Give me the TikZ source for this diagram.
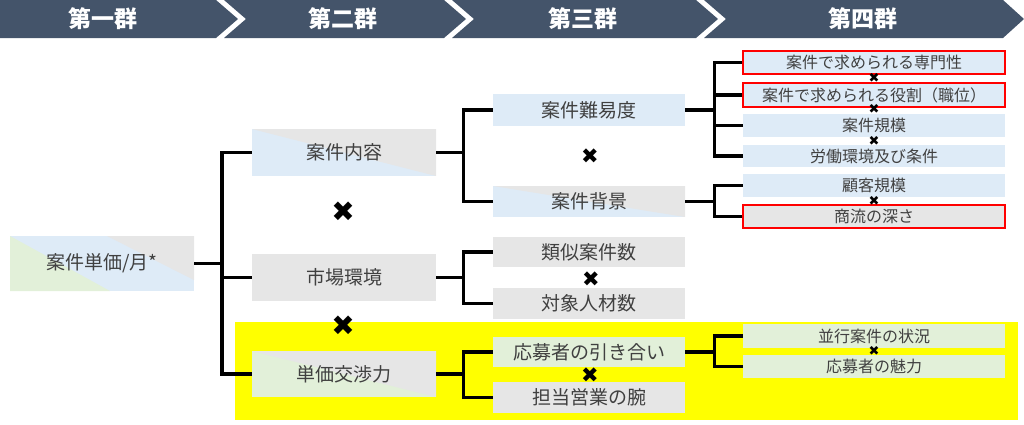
\documentclass[tikz,border=0pt]{standalone}
\usepackage{fontspec}
\newfontfamily\jp{Noto Sans CJK JP}
\newfontfamily\symf{DejaVu Sans}
\definecolor{hdr}{HTML}{44546A}
\definecolor{lblue}{HTML}{DEEBF7}
\definecolor{lgray}{HTML}{E6E6E6}
\definecolor{lgreen}{HTML}{E2F0D9}
\definecolor{txt}{HTML}{404040}
\definecolor{yel}{HTML}{FFFF00}
\definecolor{rd}{HTML}{FF0000}
\tikzset{
  box/.style={inner sep=0pt, text=txt, font=\jp\fontsize{19}{19}\selectfont},
  sbox/.style={inner sep=0pt, text=txt, font=\jp\fontsize{16}{16}\selectfont, minimum width=262pt},
  diag/.style 2 args={fill=#1, path picture={\fill[#2] (path picture bounding box.north west) -| (path picture bounding box.south east) -- cycle;}},
  redline/.style={draw=rd, line width=2.6pt},
  conn/.style={line width=3.2pt, black, line join=miter},
  bigx/.style={inner sep=0pt, font=\symf\fontsize{28}{28}\selectfont},
  midx/.style={inner sep=0pt, font=\symf\fontsize{21}{21}\selectfont},
  smallx/.style={inner sep=0pt, font=\symf\fontsize{13}{13}\selectfont},
  hdrtext/.style={inner sep=0pt, text=white, font=\jp\bfseries\fontsize{23}{23}\selectfont},
  chev/.style={fill=hdr}
}
\begin{document}
\begin{tikzpicture}[x=1pt,y=-1pt]
\useasboundingbox (0,0) rectangle (1024,424);
% header chevrons
\fill[chev] (0,0) -- (216,0) -- (238,19) -- (216,38) -- (0,38) -- cycle;
\fill[chev] (224,0) -- (444,0) -- (466,19) -- (444,38) -- (224,38) -- (246,19) -- cycle;
\fill[chev] (452,0) -- (696,0) -- (718,19) -- (696,38) -- (452,38) -- (474,19) -- cycle;
\fill[chev] (704,0) -- (1003,0) -- (1024,19) -- (1003,38) -- (704,38) -- (726,19) -- cycle;
\node[hdrtext] (h1) at (103,19) {第一群};
\node[hdrtext] (h2) at (343,19) {第二群};
\node[hdrtext] (h3) at (583,19) {第三群};
\node[hdrtext] (h4) at (863,19) {第四群};
% yellow highlight
\fill[yel] (235,322) rectangle (1018,420);
% root with three colours
\fill[lblue] (10,236) rectangle (194,291);
\fill[lgreen] (10,236) -- (10,291) -- (110,291) -- cycle;
\fill[lgray] (107,236) -- (194,236) -- (194,280) -- cycle;
\node[box, minimum width=184pt, minimum height=55pt] (root) at (102,263.5) {案件単価/月*};
% second column
\node[box, diag={lblue}{lgray}, minimum width=184pt, minimum height=47pt] (naiyo) at (344,152.5) {案件内容};
\node[box, fill=lgray, minimum width=184pt, minimum height=47pt] (shijo) at (344,277.5) {市場環境};
\node[box, diag={lgreen}{lgray}, minimum width=184pt, minimum height=46pt] (kosho) at (344,374) {単価交渉力};
% third column
\node[box, fill=lblue, minimum width=192pt, minimum height=32pt] (nanido) at (589,110) {案件難易度};
\node[box, diag={lblue}{lgray}, minimum width=192pt, minimum height=31pt] (haikei) at (589,201.5) {案件背景};
\node[box, fill=lgray, minimum width=192pt, minimum height=30pt] (ruiji) at (589,252) {類似案件数};
\node[box, fill=lgray, minimum width=192pt, minimum height=31pt] (taisho) at (589,303.5) {対象人材数};
\node[box, fill=lgreen, minimum width=192pt, minimum height=30pt] (hikiai) at (589,352) {応募者の引き合い};
\node[box, fill=lgray, minimum width=192pt, minimum height=31pt] (ude) at (589,397.5) {担当営業の腕};
% fourth column
\node[sbox, fill=lblue, redline, minimum height=23pt] (senmon) at (874,62.5) {案件で求められる専門性};
\node[sbox, fill=lblue, redline, minimum height=24pt] (yakuwari) at (874,95) {案件で求められる役割（職位）};
\node[sbox, fill=lblue, minimum height=23pt] (kibo) at (874,125.5) {案件規模};
\node[sbox, fill=lblue, minimum height=22pt] (rodo) at (874,156) {労働環境及び条件};
\node[sbox, fill=lblue, minimum height=23pt] (kokyaku) at (874,185.5) {顧客規模};
\node[sbox, fill=lgray, redline, minimum height=23pt] (shoryu) at (874,216.5) {商流の深さ};
\node[sbox, fill=lgreen, minimum height=24pt] (heiko) at (874,336) {並行案件の状況};
\node[sbox, fill=lgreen, minimum height=23pt] (miryoku) at (874,366.5) {応募者の魅力};
% crosses
\node[bigx] (x1) at (343,212) {✖};
\node[bigx] (x2) at (343,326) {✖};
\node[midx] (x3) at (590,156) {✖};
\node[midx] (x4) at (591,279) {✖};
\node[midx] (x5) at (590,375) {✖};
\node[smallx] (x6) at (874,78) {✖};
\node[smallx] (x7) at (874,108.5) {✖};
\node[smallx] (x8) at (874,141) {✖};
\node[smallx] (x9) at (874,200.5) {✖};
\node[smallx] (x10) at (874,351) {✖};
% junctions
\coordinate (j1) at (222,263.5);
\path (naiyo.east) ++(27,0) coordinate (j2);
\path (shijo.east) ++(27,0) coordinate (j3);
\path (kosho.east) ++(27,0) coordinate (j4);
\path (nanido.east) ++(29,0) coordinate (j5);
\path (haikei.east) ++(29,0) coordinate (j6);
\path (hikiai.east) ++(29,0) coordinate (j7);
% connectors
\draw[conn] (root.east) -- (j1);
\draw[conn] (naiyo.west) -| (j1) |- (kosho.west);
\draw[conn] (shijo.west) -- (shijo.west -| j1);
\draw[conn] (naiyo.east) -- (j2);
\draw[conn] (nanido.west) -| (j2) |- (haikei.west);
\draw[conn] (shijo.east) -- (j3);
\draw[conn] (ruiji.west) -| (j3) |- (taisho.west);
\draw[conn] (kosho.east) -- (j4);
\draw[conn] (hikiai.west) -| (j4) |- (ude.west);
\draw[conn] (nanido.east) -- (j5);
\draw[conn] (senmon.west) -| (j5) |- (rodo.west);
\draw[conn] (yakuwari.west) -- (yakuwari.west -| j5);
\draw[conn] (kibo.west) -- (kibo.west -| j5);
\draw[conn] (haikei.east) -- (j6);
\draw[conn] (kokyaku.west) -| (j6) |- (shoryu.west);
\draw[conn] (hikiai.east) -- (j7);
\draw[conn] (heiko.west) -| (j7) |- (miryoku.west);
\end{tikzpicture}
\end{document}
